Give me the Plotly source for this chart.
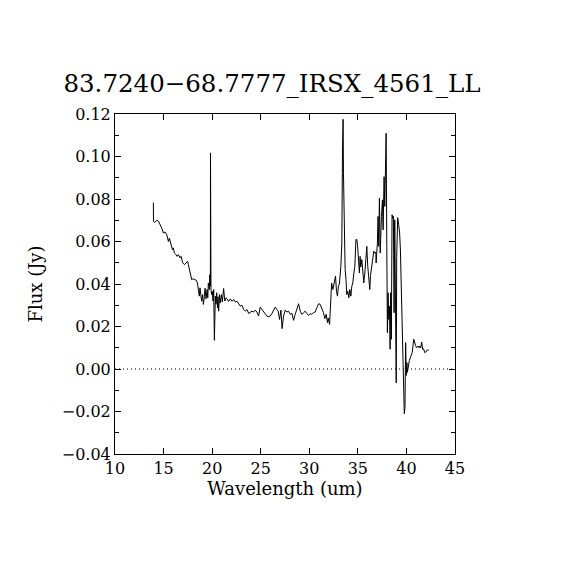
import plotly.graph_objects as go

wavelength = [
    13.95, 13.96, 14.1, 14.3, 14.47, 14.6, 14.81, 14.98, 15.15, 15.33, 15.5, 15.6, 15.7, 15.8, 15.91,
    16.01, 16.11, 16.25, 16.39, 16.53, 16.7, 16.8, 16.97, 17.14, 17.28, 17.48, 17.55, 17.65, 17.73, 17.9,
    18.05, 18.24, 18.4, 18.5, 18.58, 18.68, 18.75, 18.86, 18.92, 19.02, 19.1, 19.2, 19.27, 19.37, 19.48,
    19.55, 19.61, 19.71, 19.76, 19.82, 19.83, 19.88, 19.95, 20.02, 20.09, 20.16, 20.23, 20.33, 20.4, 20.47,
    20.55, 20.6, 20.67, 20.75, 20.82, 20.95, 21.05, 21.18, 21.3, 21.43, 21.55, 21.7, 21.87, 22.04, 22.21,
    22.39, 22.56, 22.73, 22.9, 23.07, 23.24, 23.41, 23.59, 23.76, 23.93, 24.1, 24.27, 24.44, 24.61, 24.78,
    24.95, 25.13, 25.3, 25.47, 25.64, 25.81, 25.98, 26.15, 26.32, 26.49, 26.67, 26.8, 26.94, 27.08, 27.2,
    27.35, 27.52, 27.7, 27.87, 28.04, 28.21, 28.38, 28.55, 28.73, 28.9, 29.07, 29.24, 29.41, 29.58, 29.75,
    29.92, 30.09, 30.26, 30.43, 30.6, 30.78, 30.95, 31.12, 31.29, 31.46, 31.6, 31.74, 31.88, 31.95, 32.09,
    32.22, 32.3, 32.43, 32.5, 32.6, 32.7, 32.8, 32.9, 33.0, 33.1, 33.25, 33.35, 33.42, 33.48, 33.52,
    33.6, 33.69, 33.78, 33.86, 33.96, 34.07, 34.17, 34.28, 34.38, 34.48, 34.59, 34.69, 34.8, 34.9, 34.97,
    35.06, 35.16, 35.23, 35.3, 35.41, 35.5, 35.61, 35.72, 35.82, 35.92, 36.02, 36.12, 36.23, 36.3, 36.43,
    36.54, 36.64, 36.74, 36.85, 36.88, 36.95, 37.01, 37.08, 37.15, 37.22, 37.3, 37.43, 37.53, 37.6, 37.7,
    37.77, 37.83, 37.91, 37.98, 38.04, 38.11, 38.18, 38.25, 38.32, 38.38, 38.45, 38.52, 38.59, 38.66, 38.73,
    38.8, 38.87, 38.95, 39.0, 39.1, 39.2, 39.3, 39.38, 39.45, 39.52, 39.6, 39.68, 39.78, 39.85, 39.92,
    39.98, 40.05, 40.1, 40.2, 40.3, 40.45, 40.6, 40.75, 40.85, 40.95, 41.03, 41.2, 41.3, 41.37, 41.47,
    41.57, 41.67, 41.77, 41.88, 42.0, 42.15, 42.3,
]

flux = [
    0.0783, 0.0695, 0.0690, 0.0700, 0.0696, 0.0685, 0.0663, 0.0640, 0.0645, 0.0632, 0.0600, 0.0616, 0.0593, 0.0585, 0.0562,
    0.0570, 0.0546, 0.0540, 0.0530, 0.0538, 0.0523, 0.0530, 0.0500, 0.0491, 0.0496, 0.0507, 0.0491, 0.0465, 0.0444, 0.0420,
    0.0425, 0.0420, 0.0416, 0.0400, 0.0366, 0.0343, 0.0382, 0.0335, 0.0319, 0.0350, 0.0304, 0.0343, 0.0380, 0.0330, 0.0374,
    0.0335, 0.0405, 0.0374, 0.0444, 0.0390, 0.1017, 0.0374, 0.0350, 0.0365, 0.0320, 0.0374, 0.0135, 0.0343, 0.0305, 0.0359,
    0.0288, 0.0340, 0.0272, 0.0350, 0.0310, 0.0350, 0.0315, 0.0379, 0.0320, 0.0335, 0.0330, 0.0318, 0.0330, 0.0319, 0.0327,
    0.0315, 0.0319, 0.0304, 0.0296, 0.0300, 0.0280, 0.0272, 0.0280, 0.0261, 0.0265, 0.0272, 0.0268, 0.0277, 0.0268, 0.0249,
    0.0291, 0.0280, 0.0268, 0.0257, 0.0249, 0.0246, 0.0249, 0.0261, 0.0280, 0.0291, 0.0280, 0.0272, 0.0233, 0.0277, 0.0190,
    0.0249, 0.0277, 0.0268, 0.0272, 0.0257, 0.0262, 0.0229, 0.0257, 0.0280, 0.0307, 0.0272, 0.0257, 0.0265, 0.0272, 0.0261,
    0.0252, 0.0261, 0.0257, 0.0265, 0.0268, 0.0288, 0.0307, 0.0304, 0.0288, 0.0265, 0.0237, 0.0257, 0.0218, 0.0240, 0.0210,
    0.0327, 0.0405, 0.0374, 0.0390, 0.0429, 0.0437, 0.0366, 0.0343, 0.0390, 0.0400, 0.0483, 0.0593, 0.1039, 0.1175, 0.0921,
    0.0593, 0.0468, 0.0421, 0.0350, 0.0366, 0.0335, 0.0374, 0.0343, 0.0390, 0.0405, 0.0452, 0.0483, 0.0609, 0.0609, 0.0580,
    0.0499, 0.0452, 0.0530, 0.0480, 0.0515, 0.0437, 0.0405, 0.0452, 0.0546, 0.0577, 0.0483, 0.0421, 0.0374, 0.0440, 0.0483,
    0.0515, 0.0554, 0.0546, 0.0549, 0.0499, 0.0546, 0.0593, 0.0718, 0.0577, 0.0804, 0.0546, 0.0718, 0.0796, 0.0655, 0.0905,
    0.0765, 0.1031, 0.1109, 0.0577, 0.0171, 0.0359, 0.0233, 0.0296, 0.0093, 0.0359, 0.0140, 0.0726, 0.0710, 0.0718, 0.0265,
    0.0702, 0.0150, -0.0065, 0.0530, 0.0712, 0.0680, 0.0640, 0.0560, 0.0410, 0.0330, 0.0100, 0.0046, -0.0210, -0.0180, 0.0124,
    -0.0030, 0.0030, -0.0016, 0.0014, 0.0040, 0.0060, 0.0078, 0.0140, 0.0116, 0.0110, 0.0100, 0.0108, 0.0100, 0.0108, 0.0100,
    0.0127, 0.0093, 0.0095, 0.0077, 0.0080, 0.0090, 0.0088,
]

title_text = "83.7240\u221268.7777_IRSX_4561_LL"
x_label = "Wavelength (um)"
y_label = "Flux (Jy)"
x_ticks = [10, 15, 20, 25, 30, 35, 40, 45]
y_ticks = [-0.04, -0.02, 0.00, 0.02, 0.04, 0.06, 0.08, 0.10, 0.12]

FONT = "DejaVu Serif"

fig = go.Figure()
fig.add_trace(go.Scatter(
    x=wavelength, y=flux, mode="lines",
    line=dict(color="black", width=1),
    showlegend=False, hoverinfo="skip",
))
fig.add_hline(y=0, line=dict(color="black", width=1, dash="1px,3px"))

fig.update_layout(
    width=570, height=570,
    paper_bgcolor="white", plot_bgcolor="white",
    margin=dict(l=107, r=123, t=106, b=124),
    font=dict(family=FONT, color="black", size=16),
    title=dict(text=title_text, x=(272 - 8) / 570, xanchor="center", y=0.868, yanchor="middle",
               font=dict(family=FONT, size=24.5, color="black")),
    showlegend=False,
)
fig.update_xaxes(
    range=[10, 45], tickvals=x_ticks, ticktext=[str(v) for v in x_ticks],
    showline=True, linecolor="black", linewidth=1, mirror="ticks",
    ticks="inside", ticklen=6, tickwidth=1, tickcolor="black",
    showgrid=False, zeroline=False,
    title=dict(text=x_label, font=dict(family=FONT, size=18), standoff=4),
    tickfont=dict(family=FONT, size=16),
)
fig.update_yaxes(
    range=[-0.04, 0.12], tickvals=y_ticks, tickformat=".2f",
    showline=True, linecolor="black", linewidth=1, mirror="ticks",
    ticks="inside", ticklen=6, tickwidth=1, tickcolor="black",
    minor=dict(dtick=0.01, ticks="inside", ticklen=4, tickcolor="black", tickwidth=1, showgrid=False),
    showgrid=False, zeroline=False,
    title=dict(text=y_label, font=dict(family=FONT, size=18), standoff=14),
    tickfont=dict(family=FONT, size=16),
)

fig.write_html("out.html")
